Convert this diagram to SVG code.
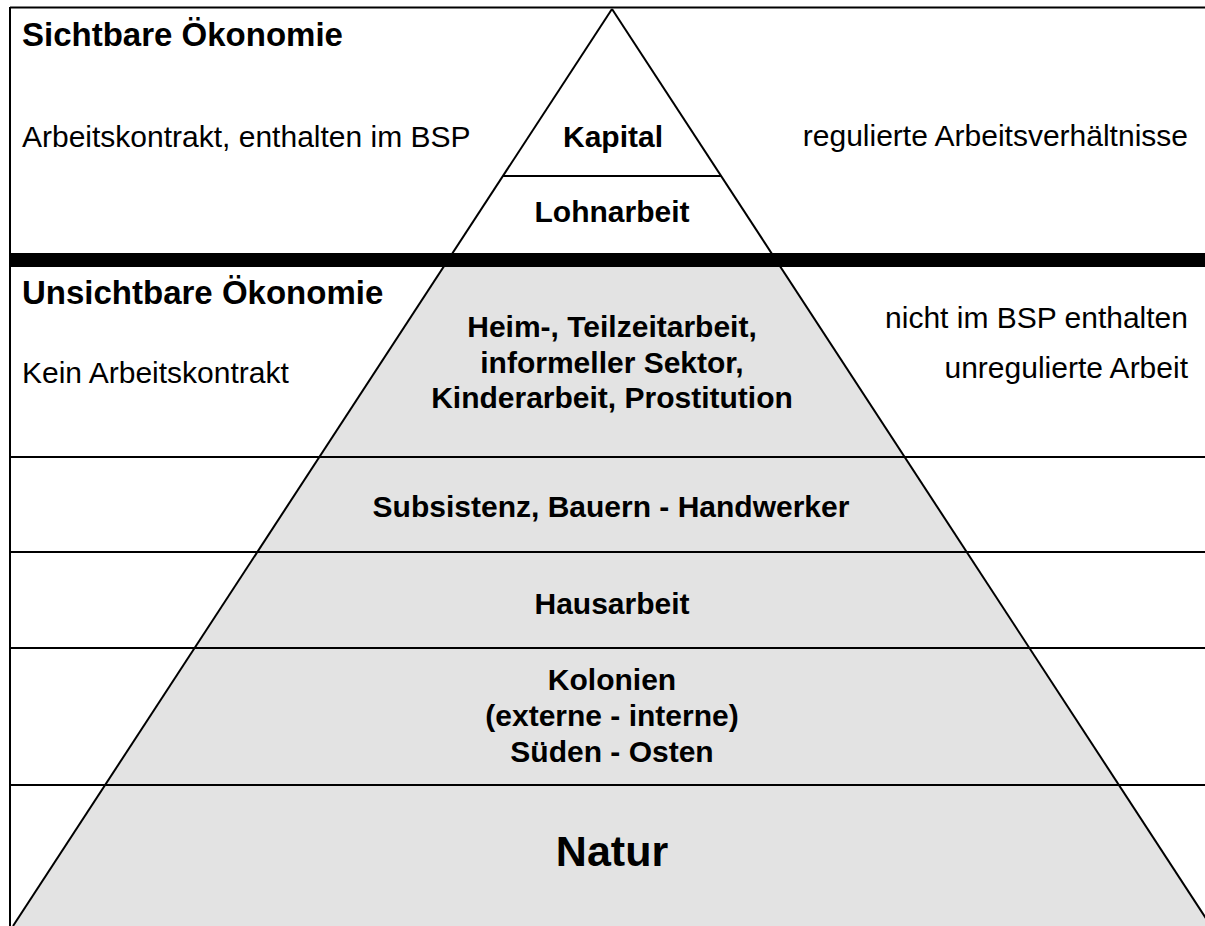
<svg xmlns="http://www.w3.org/2000/svg" width="1205" height="926" viewBox="0 0 1205 926">
<style>
text{font-family:"Liberation Sans",Arial,sans-serif;fill:#000}
.h{font-size:33px;font-weight:bold}
.r{font-size:30px}
.b{font-size:30px;font-weight:bold;text-anchor:middle}
.n{font-size:43px;font-weight:bold;text-anchor:middle}
.ln{stroke:#000;stroke-width:2;fill:none}
</style>
<rect width="1205" height="926" fill="#fff"/>
<g id="pyramid">
<polygon points="443.5,267 780.5,267 1211,926 13,926" fill="#e3e3e3"/>
<polygon points="612,9 443.5,267 780.5,267" fill="#fff"/>
</g>
<g id="connectors">
<line class="ln" x1="10" y1="7.5" x2="1205" y2="7.5"/>
<line class="ln" x1="10" y1="7" x2="10" y2="926"/>
<line class="ln" x1="503" y1="176" x2="721" y2="176"/>
<rect x="10" y="253" width="1195" height="14" fill="#000"/>
<line class="ln" x1="10" y1="457" x2="1205" y2="457"/>
<line class="ln" x1="10" y1="552" x2="1205" y2="552"/>
<line class="ln" x1="10" y1="648" x2="1205" y2="648"/>
<line class="ln" x1="10" y1="785" x2="1205" y2="785"/>
<line class="ln" x1="612" y1="9" x2="13" y2="926"/>
<line class="ln" x1="612" y1="9" x2="1211" y2="926"/>
</g>
<g id="sichtbar">
<text class="h" x="22" y="46">Sichtbare Ökonomie</text>
<text class="r" x="22" y="147">Arbeitskontrakt, enthalten im BSP</text>
<text class="r" x="1188" y="146" text-anchor="end">regulierte Arbeitsverhältnisse</text>
</g>
<g id="kapital"><text class="b" x="613" y="147">Kapital</text></g>
<g id="lohnarbeit"><text class="b" x="612" y="222">Lohnarbeit</text></g>
<g id="unsichtbar">
<text class="h" x="22" y="304">Unsichtbare Ökonomie</text>
<text class="r" x="22" y="383">Kein Arbeitskontrakt</text>
<text class="r" x="1188" y="328" text-anchor="end">nicht im BSP enthalten</text>
<text class="r" x="1188" y="378" text-anchor="end">unregulierte Arbeit</text>
</g>
<g id="heimarbeit">
<text class="b" x="612" y="337">Heim-, Teilzeitarbeit,</text>
<text class="b" x="612" y="373">informeller Sektor,</text>
<text class="b" x="612" y="408">Kinderarbeit, Prostitution</text>
</g>
<g id="subsistenz"><text class="b" x="611" y="517">Subsistenz, Bauern - Handwerker</text></g>
<g id="hausarbeit"><text class="b" x="612" y="614">Hausarbeit</text></g>
<g id="kolonien">
<text class="b" x="612" y="690">Kolonien</text>
<text class="b" x="612" y="726">(externe - interne)</text>
<text class="b" x="612" y="762">Süden - Osten</text>
</g>
<g id="natur"><text class="n" x="612" y="866">Natur</text></g>
</svg>
